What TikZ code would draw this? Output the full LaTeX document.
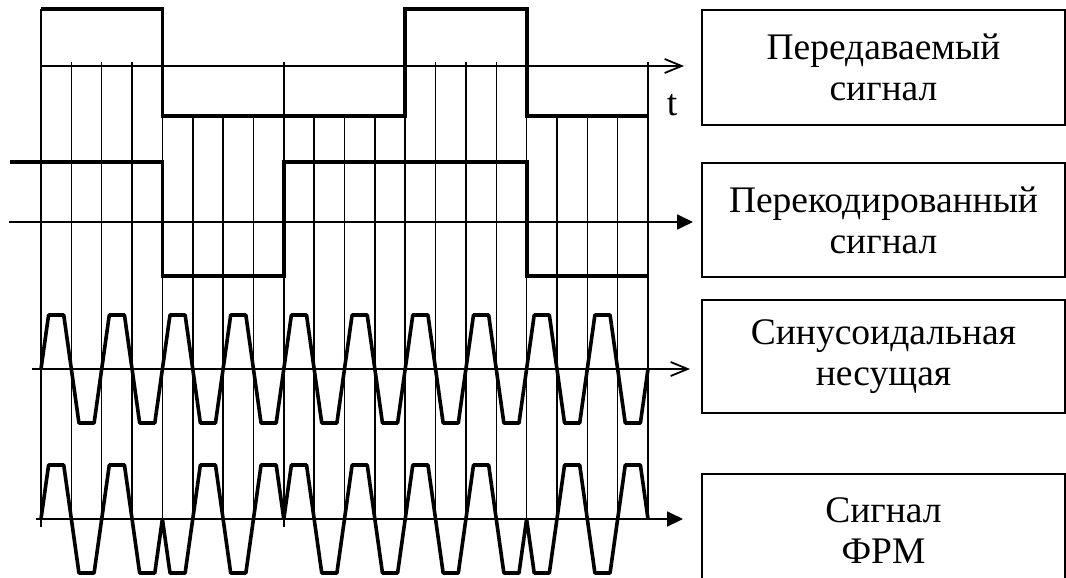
\documentclass[tikz,border=0pt]{standalone}
\usepackage{fontspec}
\setmainfont{Liberation Serif}
\usetikzlibrary{arrows.meta}
\begin{document}
\begin{tikzpicture}[x=1pt,y=-1pt,
  gridline/.style={line width=1.5pt},
  axisline/.style={line width=1.8pt},
  openarrow/.style={axisline,-{Straight Barb[length=17pt,width=14pt,line width=1.8pt]}},
  fillarrow/.style={axisline,-{Triangle[length=16pt,width=15pt]}},
  sig/.style={line width=3.8pt,line join=miter,line cap=butt},
  wave/.style={line width=3.6pt,line join=round},
  box/.style={draw,line width=1.4pt,minimum width=363pt,inner sep=0pt,align=center,
    font=\fontsize{37.5}{41}\selectfont},
  lbl/.style={font=\fontsize{37.5}{41}\selectfont,inner sep=0pt}]
\useasboundingbox (0,0) rectangle (1066,578);
\clip (0,0) rectangle (1066,578);
\def\g{30.35}
% vertical grid lines
\foreach \k/\ys/\ye in {0/9/527,1/62/519,2/62/519,3/62/519,4/116/519,5/116/519,6/116/519,7/116/519,
  8/62/527,9/116/519,10/116/519,11/116/519,12/116/519,13/62/519,14/62/519,15/62/519,
  16/116/519,17/116/519,18/116/519,19/116/519,20/62/519}
  \draw[gridline] ({41+\k*\g},\ys) -- ({41+\k*\g},\ye);
% axes
\coordinate (a1s) at (40,66);  \coordinate (a1e) at (684,66);
\coordinate (a2s) at (9,222);  \coordinate (a2e) at (693,222);
\coordinate (a3s) at (32,369); \coordinate (a3e) at (690,369);
\coordinate (a4s) at (36,519); \coordinate (a4e) at (683,519);
\draw[openarrow] (a1s) -- (a1e);
\draw[fillarrow] (a2s) -- (a2e);
\draw[openarrow] (a3s) -- (a3e);
\draw[fillarrow] (a4s) -- (a4e);
% transmitted signal
\draw[sig] (41,9) -- ({41+4*\g},9) -- ({41+4*\g},116) -- ({41+12*\g},116) -- ({41+12*\g},9)
  -- ({41+16*\g},9) -- ({41+16*\g},116) -- ({41+20*\g},116);
% recoded signal
\draw[sig] (10,162) -- ({41+4*\g},162) -- ({41+4*\g},276) -- ({41+8*\g},276) -- ({41+8*\g},162)
  -- ({41+16*\g},162) -- ({41+16*\g},276) -- ({41+20*\g},276);
% sinusoidal carrier
\draw[wave] (41,369) \foreach \s in {1,-1,1,-1,1,-1,1,-1,1,-1,1,-1,1,-1,1,-1,1,-1,1,-1}
  { -- ++(7.6,{-\s*54}) -- ++(15.15,0) -- ++(7.6,{\s*54}) };
% PSK signal
\draw[wave] (41,519) \foreach \s in {1,-1,1,-1,-1,1,-1,1,1,-1,1,-1,1,-1,1,-1,-1,1,-1,1}
  { -- ++(7.6,{-\s*54}) -- ++(15.15,0) -- ++(7.6,{\s*54}) };
% label t
\node[lbl,anchor=base] (tl) at (672,115) {t};
% boxes
\node[box,minimum height=115pt] (b1) at (883.5,67.5) {Передаваемый\\сигнал};
\node[box,minimum height=114pt] (b2) at (883.5,220) {Перекодированный\\сигнал};
\node[box,minimum height=113pt] (b3) at (883.5,356.5) {Синусоидальная\\несущая};
\node[box,minimum height=114pt] (b4) at (883.5,531) {Сигнал\\ФРМ};
\end{tikzpicture}
\end{document}
